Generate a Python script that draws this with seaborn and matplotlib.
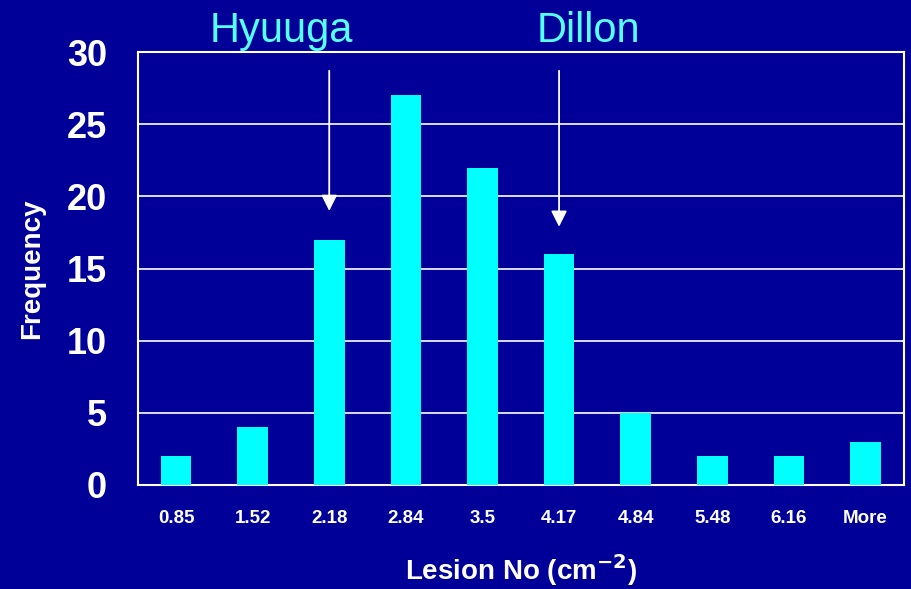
import matplotlib
matplotlib.use("Agg")
import matplotlib.pyplot as plt
import seaborn as sns
import pandas as pd
from matplotlib.ticker import FixedLocator

# data
bins = ["0.85", "1.52", "2.18", "2.84", "3.5", "4.17", "4.84", "5.48", "6.16", "More"]
frequency = [2, 4, 17, 27, 22, 16, 5, 2, 2, 3]
yticks = [0, 5, 10, 15, 20, 25, 30]

# annotated varieties: label, bin, arrow start, arrow tip, label x position
varieties = ["Hyuuga", "Dillon"]
variety_bins = ["2.18", "4.17"]
arrow_top = [28.9, 28.9]
arrow_tip = [18.8, 17.7]
label_x = [1.38, 5.39]

df = pd.DataFrame({"bin": bins, "freq": frequency})

bg = "#000099"
sns.set_style("white")
plt.rcParams["font.family"] = ["Liberation Sans", "DejaVu Sans"]

fig = plt.figure(figsize=(9.12, 5.89), dpi=100, facecolor=bg)
ax = fig.add_axes([0.151, 0.1766, 0.84, 0.735])
ax.set_facecolor(bg)

sns.barplot(data=df, x="bin", y="freq", color="#00FFFF", saturation=1,
            width=0.4, ax=ax, zorder=3, edgecolor="none", linewidth=0)

ax.set_ylim(0, 30)
ax.set_xlim(-0.5, len(bins) - 0.5)
ax.set_yticks(yticks)
ax.yaxis.grid(True, color="white", linewidth=1.2, zorder=0)
ax.set_axisbelow(True)

for s in ax.spines.values():
    s.set_color("white")
    s.set_linewidth(1.5)

ax.tick_params(axis="y", colors="white", length=8, width=1.2, labelsize=26, pad=14)
for lbl in ax.get_yticklabels():
    lbl.set_fontweight("bold")

# category labels at centre, tick marks at boundaries
ax.tick_params(axis="x", which="major", length=0, colors="white", labelsize=13.5, pad=18)
ax.xaxis.set_minor_locator(FixedLocator([i - 0.5 for i in range(len(bins) + 1)]))
ax.tick_params(axis="x", which="minor", length=5, width=1.2, colors="white")
for lbl in ax.get_xticklabels():
    lbl.set_fontweight("bold")

ax.set_xlabel("Lesion No (cm$^{\\mathbf{-2}}$)", color="white", fontsize=20,
              fontweight="bold")
ax.xaxis.set_label_coords(0.5, -0.155)
ax.set_ylabel("Frequency", color="white", fontsize=20, fontweight="bold", labelpad=16)

for name, b, y0, y1, lx in zip(varieties, variety_bins, arrow_top, arrow_tip, label_x):
    xi = bins.index(b)
    ax.annotate("", xy=(xi, y1), xytext=(xi, y0),
                arrowprops=dict(arrowstyle="-|>", color="white", lw=1.3,
                                mutation_scale=24), zorder=4)
    ax.text(lx, 30.7, name, color="#55FFFF", fontsize=30, ha="center",
            va="baseline", clip_on=False)

fig.savefig("out.png", dpi=100, facecolor=bg)
